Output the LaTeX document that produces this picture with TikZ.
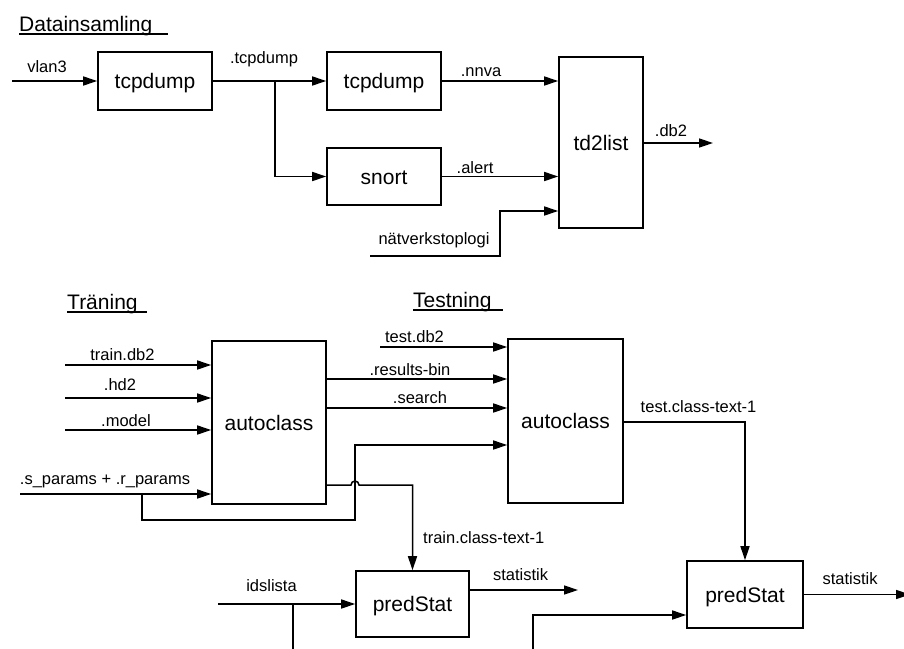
\documentclass[tikz,border=0pt]{standalone}
\usepackage{fontspec}
\setmainfont{Liberation Sans}
\usetikzlibrary{arrows.meta}
\begin{document}
\begin{tikzpicture}[x=1pt,y=-1pt,
  box/.style={draw, line width=1.6pt, inner sep=0pt, font=\fontsize{21}{25}\selectfont, text height=15pt, text depth=0pt},
  lbl/.style={anchor=base, inner sep=0pt, font=\fontsize{16.5}{20}\selectfont},
  ttl/.style={anchor=base west, inner sep=0pt, font=\fontsize{21}{25}\selectfont},
  con/.style={line width=1.5pt, -{Triangle[length=14pt,width=9pt]}},
  ln/.style={line width=1.5pt},
  uline/.style={line width=1.3pt},
]
\useasboundingbox (0,0) rectangle (904,648);

% ---------- boxes ----------
\node[box, minimum width=114pt, minimum height=58pt] (tcpA) at (155,81) {tcpdump};
\node[box, minimum width=114pt, minimum height=58pt] (tcpB) at (384,81) {tcpdump};
\node[box, minimum width=114pt, minimum height=57pt] (snort) at (384,176.5) {snort};
\node[box, minimum width=84pt, minimum height=171pt] (td) at (601,142.5) {td2list};
\node[box, minimum width=114pt, minimum height=163pt] (acA) at (269,422.5) {autoclass};
\node[box, minimum width=115pt, minimum height=164pt] (acB) at (565.5,421) {autoclass};
\node[box, minimum width=113pt, minimum height=66pt] (psA) at (412.5,604) {predStat};
\node[box, minimum width=116pt, minimum height=67pt] (psB) at (745,594.5) {predStat};

% ---------- titles ----------
\node[ttl] (t1) at (19,31) {Datainsamling};
\draw[uline] (19,34) -- (168,34);
\node[ttl] (t2) at (67,309) {Träning};
\draw[uline] (67,312) -- (147,312);
\node[ttl] (t3) at (413,307) {Testning};
\draw[uline] (413,310) -- (503,310);

% ---------- Datainsamling ----------
\coordinate (vin) at (12,81);
\draw[con] (vin) -- (tcpA.west);
\node[lbl] (lvlan) at (47,72) {vlan3};

\draw[con] (tcpA.east) -- (tcpB.west);
\node[lbl] (ltcp) at (264,63) {.tcpdump};
\coordinate (br1) at (275,81);
\draw[con] (br1) |- (snort.west);

\draw[con] (tcpB.east) -- (tcpB.east -| td.west);
\node[lbl] (lnnva) at (481,76) {.nnva};
\draw[con] (snort.east) -- (snort.east -| td.west);
\node[lbl] (lalert) at (475,173) {.alert};

\coordinate (nv) at (370,256);
\coordinate (nvc) at (500,256);
\draw[con] (nv) -- (nvc) |- (td.west |- 0,211);
\node[lbl] (lnv) at (434,244) {nätverkstoplogi};

\coordinate (dbout) at (713,143);
\draw[con] (td.east |- dbout) -- (dbout);
\node[lbl] (ldb) at (671,136) {.db2};

% ---------- Träning ----------
\coordinate (i1) at (65,365);
\draw[con] (i1) -- (i1 -| acA.west);
\node[lbl] (li1) at (122.5,360) {train.db2};
\coordinate (i2) at (65,398);
\draw[con] (i2) -- (i2 -| acA.west);
\node[lbl] (li2) at (120,390) {.hd2};
\coordinate (i3) at (65,430);
\draw[con] (i3) -- (i3 -| acA.west);
\node[lbl] (li3) at (126,426) {.model};
\coordinate (i4) at (20,494);
\draw[con] (i4) -- (i4 -| acA.west);
\node[lbl] (li4) at (105,484) {.s\_params + .r\_params};

\coordinate (br2) at (142,494);
\draw[con] (br2) -- (142,520) -- (355,520) -- (355,445) -- (acB.west |- 0,445);

\draw[con] (acA.east |- 0,485) -- (351,485) arc[start angle=180, end angle=360, radius=4] -- (psA.north |- 0,485) -- (psA.north);
\node[lbl, anchor=base west] (ltrain) at (423,543) {train.class-text-1};

% ---------- Testning ----------
\coordinate (tin) at (380,347);
\draw[con] (tin) -- (tin -| acB.west);
\node[lbl] (ltest) at (414.5,342) {test.db2};
\draw[con] (acA.east |- 0,379) -- (acB.west |- 0,379);
\node[lbl] (lres) at (410,375) {.results-bin};
\draw[con] (acA.east |- 0,408) -- (acB.west |- 0,408);
\node[lbl] (lsearch) at (420,403) {.search};

\draw[con] (acB.east |- 0,422) -- (psB.north |- 0,422) -- (psB.north);
\node[lbl] (ltcl) at (698.5,412) {test.class-text-1};

% ---------- predStat ----------
\coordinate (s2) at (910,594.5);
\draw[con] (psB.east) -- (s2);
\node[lbl] (lst2) at (850,584) {statistik};

\coordinate (s1) at (578,590);
\draw[con] (psA.east |- s1) -- (s1);
\node[lbl] (lst1) at (520.5,580) {statistik};

\coordinate (ids) at (218,604);
\draw[con] (ids) -- (psA.west);
\node[lbl] (lids) at (271.5,591) {idslista};
\coordinate (br3) at (293,604);
\coordinate (br3b) at (293,652);
\draw[ln] (br3) -- (br3b);

\coordinate (pin) at (533,652);
\draw[con] (pin) -- (533,615) -- (psB.west |- 0,615);
\end{tikzpicture}
\end{document}
